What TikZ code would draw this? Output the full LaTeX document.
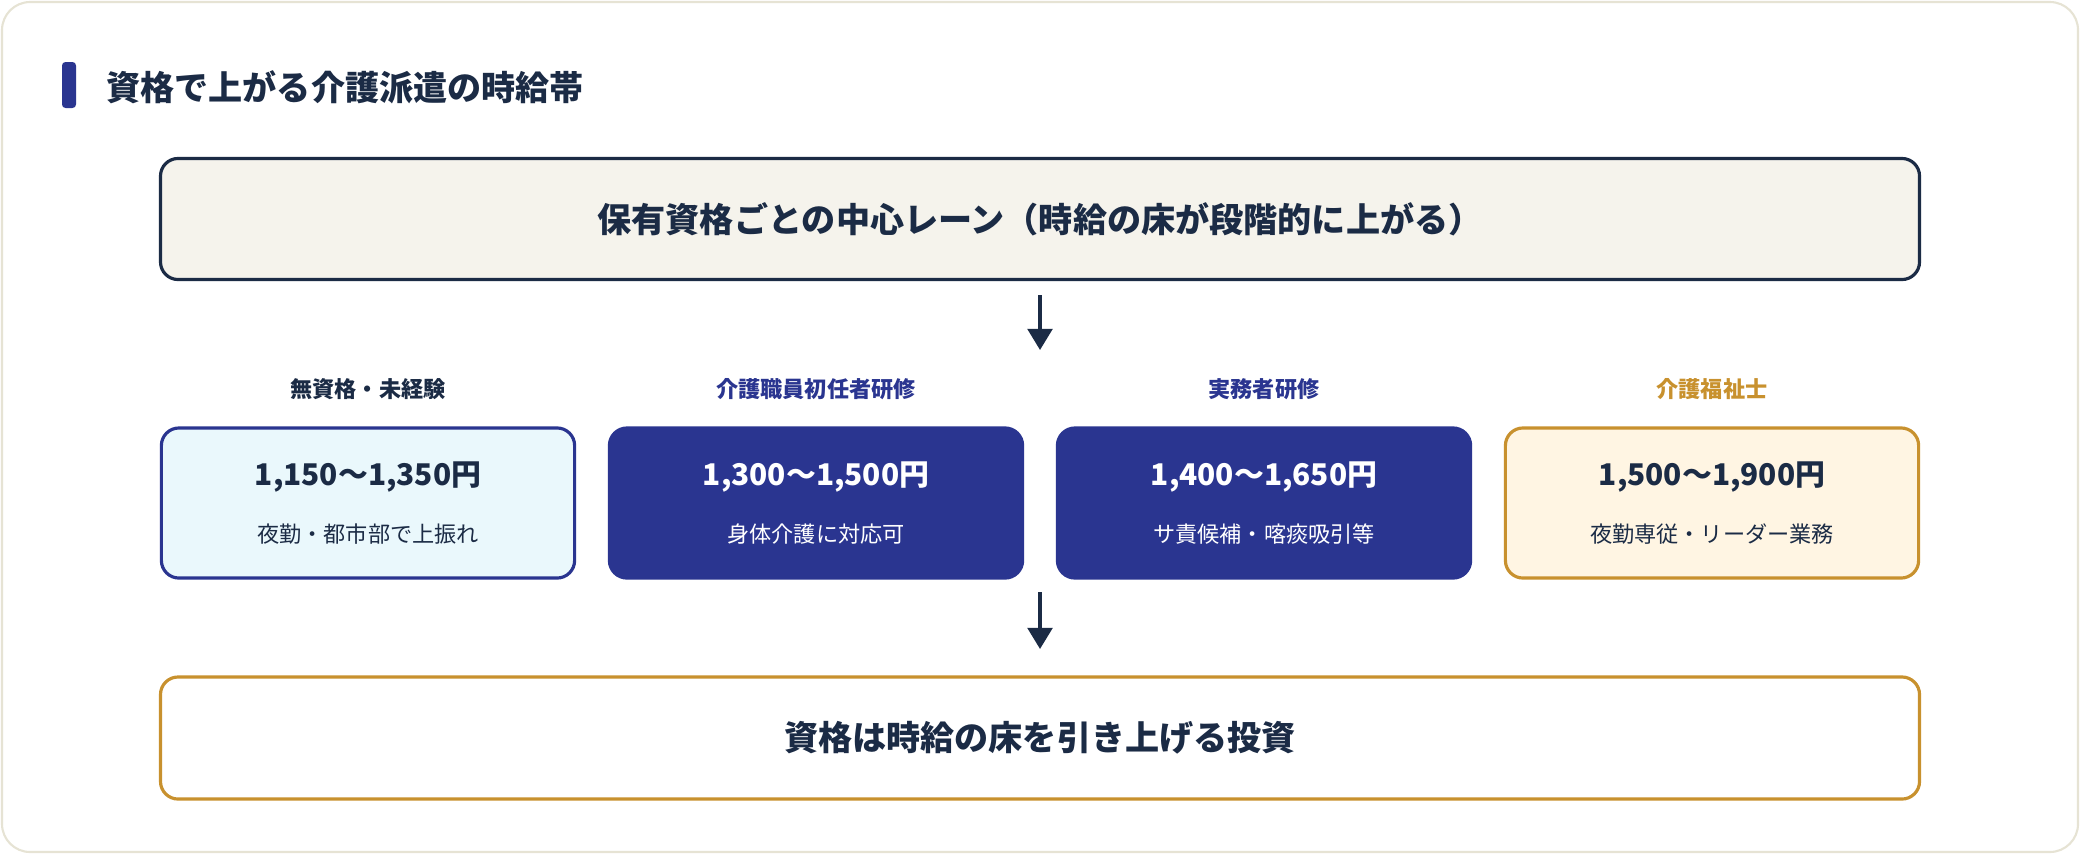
\documentclass[tikz,border=0pt]{standalone}
\usepackage{fontspec}
\setmainfont{Noto Sans CJK JP}
\usetikzlibrary{positioning,arrows.meta}
\definecolor{ink}{HTML}{1B2B45}
\definecolor{navy}{HTML}{2A3590}
\definecolor{gold}{HTML}{C8912E}
\definecolor{paper}{HTML}{F5F3EC}
\definecolor{sky}{HTML}{EAF8FC}
\definecolor{cream}{HTML}{FFF5E3}
\definecolor{rim}{HTML}{E6E3D4}
\tikzset{wide box/.style={draw,line width=0.9pt,rounded corners=5pt,minimum width=17.58cm,minimum height=1.21cm,font=\fontsize{9.7}{12}\bfseries\selectfont,text=ink},
         lane box/.style={draw=navy,line width=0.9pt,rounded corners=5pt,minimum width=4.13cm,minimum height=1.5cm,align=center,text=ink},
         lane head/.style={font=\fontsize{6.3}{8}\bfseries\selectfont},
         flow arrow/.style={-{Triangle[length=6pt,width=7pt]},line width=1pt,draw=ink}
}
\newcommand{\lanetext}[2]{{\fontsize{8.5}{11}\bfseries\selectfont #1}\\[4pt]{\fontsize{6.3}{8}\selectfont #2}}
\begin{document}
\begin{tikzpicture}[x=0.01cm,y=-0.01cm]
    \useasboundingbox (0,0) rectangle (2080,854);
    \draw[rim,fill=white,rounded corners=8pt,line width=0.6pt] (2,2) rectangle (2078,852);
    % title
    \fill[navy,rounded corners=1pt] (62,62) rectangle (76,108);
    \node[anchor=west,text=ink,font=\fontsize{9.7}{12}\bfseries\selectfont] (title) at (94,87) {資格で上がる介護派遣の時給帯};
    % top and bottom
    \node[wide box,fill=paper,draw=ink] (lane) at (1040,219) {保有資格ごとの中心レーン（時給の床が段階的に上がる）};
    \node[wide box,fill=white,draw=gold,minimum height=1.22cm] (invest) at (1040,738) {資格は時給の床を引き上げる投資};
    % lanes
    \node[lane box,fill=sky] (none) at (368,503) {\lanetext{1,150〜1,350円}{夜勤・都市部で上振れ}};
    \node[lane box,fill=navy,text=white] (shoninsha) at (816,503) {\lanetext{1,300〜1,500円}{身体介護に対応可}};
    \node[lane box,fill=navy,text=white] (jitsumu) at (1264,503) {\lanetext{1,400〜1,650円}{サ責候補・喀痰吸引等}};
    \node[lane box,fill=cream,draw=gold] (fukushishi) at (1712,503) {\lanetext{1,500〜1,900円}{夜勤専従・リーダー業務}};
    \node[lane head,text=ink,above=0.14cm of none] {無資格・未経験};
    \node[lane head,text=navy,above=0.14cm of shoninsha] {介護職員初任者研修};
    \node[lane head,text=navy,above=0.14cm of jitsumu] {実務者研修};
    \node[lane head,text=gold,above=0.14cm of fukushishi] {介護福祉士};
    % arrows
    \coordinate (a1) at (1040,295);
    \coordinate (b1) at (1040,350);
    \coordinate (a2) at (1040,592);
    \coordinate (b2) at (1040,649);
    \draw[flow arrow] (a1) -- (b1);
    \draw[flow arrow] (a2) -- (b2);
\end{tikzpicture}
\end{document}
